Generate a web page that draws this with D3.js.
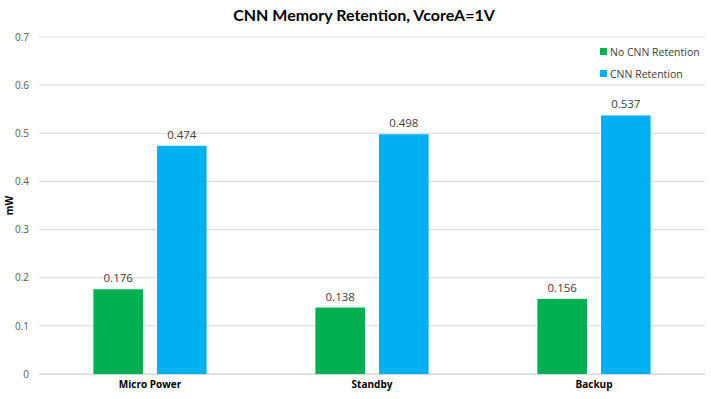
<!DOCTYPE html>
<html><head><meta charset="utf-8">
<script src="https://cdn.jsdelivr.net/npm/d3@7"></script>
<style>body{margin:0;background:#fff}svg{display:block}</style>
</head><body>
<script>
const categories = ["Micro Power", "Standby", "Backup"];
const seriesNames = ["No CNN Retention", "CNN Retention"];
const noRetention = [0.176, 0.138, 0.156];
const withRetention = [0.474, 0.498, 0.537];
const yTicks = [0, 0.1, 0.2, 0.3, 0.4, 0.5, 0.6, 0.7];
const colors = ["#00B050", "#00B0F0"];

const W = 711, H = 399;
const m = {left: 39, right: 6, top: 37, bottom: 25};
const svg = d3.select("body").append("svg").attr("width", W).attr("height", H);
const font = "'Open Sans', 'Liberation Sans', sans-serif";
const titleFont = "Lato, 'Open Sans', sans-serif";

const x = d3.scaleBand().domain(categories).range([m.left, W - m.right]).paddingInner(0.49).paddingOuter(0.245);
const xs = d3.scaleBand().domain(seriesNames).range([0, x.bandwidth()]).paddingInner(0.22);
const y = d3.scaleLinear().domain([0, 0.7]).range([H - m.bottom, m.top]);

// gridlines
svg.append("g").selectAll("line").data(yTicks).join("line")
  .attr("x1", m.left).attr("x2", W - m.right)
  .attr("y1", d => y(d)).attr("y2", d => y(d))
  .attr("stroke", "#d9d9d9").attr("stroke-width", 1);

// y axis
const ya = svg.append("g").attr("transform", `translate(${m.left},0)`)
  .call(d3.axisLeft(y).tickValues(yTicks).tickSize(0).tickPadding(10).tickFormat(d => d === 0 ? "0" : d3.format(".1f")(d)));
ya.select(".domain").remove();
ya.selectAll("text").attr("font-family", font).attr("font-size", 10).attr("fill", "#595959");

// x axis
const xa = svg.append("g").attr("transform", `translate(0,${y(0)})`)
  .call(d3.axisBottom(x).tickSize(0).tickPadding(7));
xa.select(".domain").attr("stroke", "#d9d9d9");
xa.selectAll("text").attr("font-family", font).attr("font-size", 10).attr("font-weight", "bold").attr("fill", "#000");

const data = [noRetention, withRetention];
data.forEach((vals, si) => {
  const g = svg.append("g");
  g.selectAll("rect").data(vals).join("rect")
    .attr("x", (d, i) => x(categories[i]) + xs(seriesNames[si]))
    .attr("width", xs.bandwidth())
    .attr("y", d => y(d)).attr("height", d => y(0) - y(d))
    .attr("fill", colors[si]);
  g.selectAll("text").data(vals).join("text")
    .attr("x", (d, i) => x(categories[i]) + xs(seriesNames[si]) + xs.bandwidth() / 2)
    .attr("y", d => y(d) - 7)
    .attr("text-anchor", "middle")
    .attr("font-family", font).attr("font-size", 11.5).attr("fill", "#404040")
    .text(d => d3.format(".3f")(d));
});

// title
svg.append("text").attr("x", 364).attr("y", 21).attr("text-anchor", "middle")
  .attr("font-family", titleFont).attr("font-size", 16).attr("font-weight", "bold").attr("fill", "#000")
  .text("CNN Memory Retention, VcoreA=1V");

// y label
svg.append("text").attr("transform", `translate(13,${(m.top + H - m.bottom) / 2}) rotate(-90)`)
  .attr("text-anchor", "middle").attr("font-family", font).attr("font-size", 10).attr("font-weight", "bold")
  .text("mW");

// legend
const lg = svg.append("g");
seriesNames.forEach((n, i) => {
  const ly = 52 + i * 22;
  lg.append("rect").attr("x", 600).attr("y", ly - 4).attr("width", 7).attr("height", 7).attr("fill", colors[i]);
  lg.append("text").attr("x", 610).attr("y", ly).attr("dy", "0.35em")
    .attr("font-family", font).attr("font-size", 10.5).attr("fill", "#404040").text(n);
});
</script>
</body></html>
